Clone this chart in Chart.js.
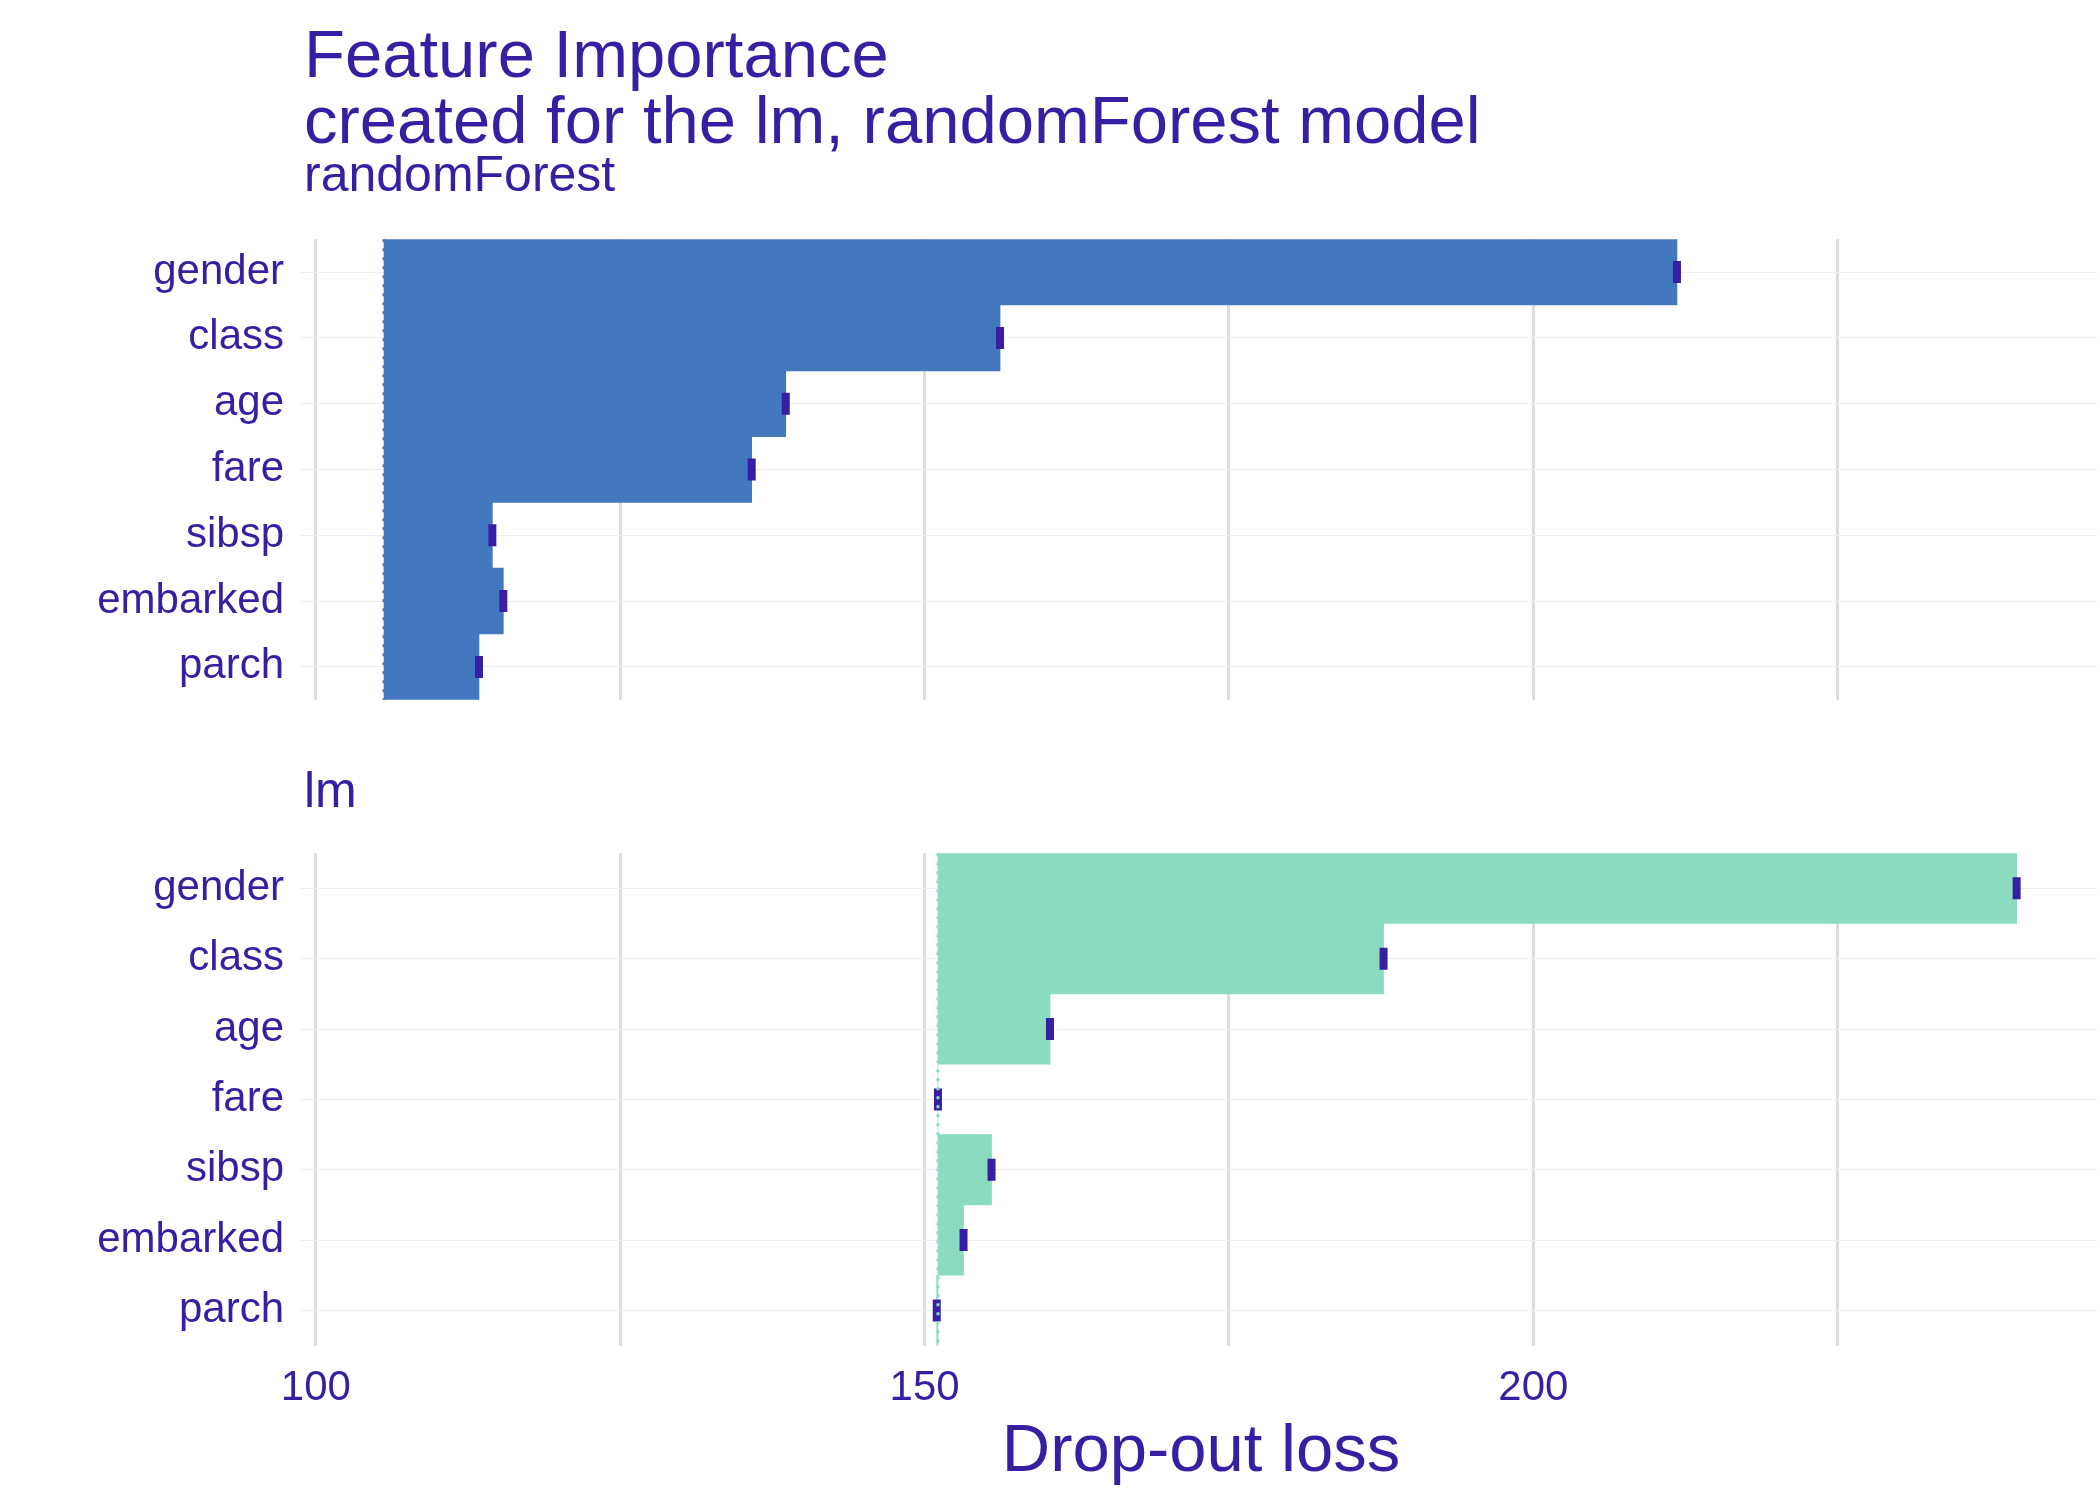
<!DOCTYPE html>
<html>
<head>
<meta charset="utf-8">
<script src="https://cdn.jsdelivr.net/npm/chart.js@4/dist/chart.umd.min.js"></script>
<style>
body { margin:0; width:2100px; height:1499px; background:#fff; font-family:Arial, "Liberation Sans", sans-serif; color:#371EA3; position:relative; overflow:hidden; }
.t { position:absolute; white-space:nowrap; }
.box { position:absolute; left:0; width:2100px; }
</style>
</head>
<body>
<div class="t" style="left:304px;top:20px;font-size:67px;line-height:68px;">Feature Importance</div>
<div class="t" style="left:304px;top:86px;font-size:67px;line-height:68px;">created for the lm, randomForest model</div>
<div class="t" style="left:304px;top:148px;font-size:50px;line-height:52px;">randomForest</div>
<div class="t" style="left:304px;top:764px;font-size:50px;line-height:52px;">lm</div>
<div class="t" style="left:951px;top:1414px;font-size:67px;line-height:68px;width:500px;text-align:center;">Drop-out loss</div>
<div class="box" style="top:198px;height:543px;"><canvas id="c1"></canvas></div>
<div class="box" style="top:812px;height:620px;"><canvas id="c2"></canvas></div>
<script>
let variaveis = ["gender","class","age","fare","sibsp","embarked","parch"];
let baseRF = 105.6;
let perdaRF = [211.8,156.2,138.6,135.8,114.5,115.4,113.4];
let baseLM = 151.1;
let perdaLM = [239.7,187.7,160.3,151.1,155.5,153.2,151.0];
let roxo = "#371EA3";

let linhaBase = {
    id: "linhaBase",
    afterDatasetsDraw: function (chart, args, opts) {
        let x = chart.scales.x.getPixelForValue(opts.valor);
        let ctx = chart.ctx;
        ctx.save();
        ctx.strokeStyle = opts.cor;
        ctx.lineWidth = 3;
        ctx.setLineDash([3,6]);
        ctx.beginPath();
        ctx.moveTo(x, chart.chartArea.top);
        ctx.lineTo(x, chart.chartArea.bottom);
        ctx.stroke();
        ctx.restore();
    }
};

function gerarGrafico(id, base, perdas, cor, corLinha, mostrarX) {
    let ctx = document.getElementById(id).getContext("2d");
    return new Chart(ctx, {
        data: {
            labels: variaveis,
            datasets: [{
                type: "line",
                data: perdas.map((v,i) => ({x:v, y:variaveis[i]})),
                showLine: false,
                pointStyle: "line",
                rotation: 90,
                radius: 11,
                borderWidth: 8,
                borderColor: roxo,
                backgroundColor: roxo
            },{
                type: "bar",
                data: perdas.map(v => [base, v]),
                backgroundColor: cor,
                barPercentage: 1,
                categoryPercentage: 1
            }]
        },
        options: {
            indexAxis: "y",
            responsive: true,
            maintainAspectRatio: false,
            animation: false,
            layout: { autoPadding: false, padding: {top:0, right:3, bottom:0, left:0} },
            plugins: {
                legend: { display: false },
                tooltip: { enabled: false },
                linhaBase: { valor: base, cor: corLinha }
            },
            scales: {
                x: {
                    type: "linear",
                    min: 98.7, max: 246.3,
                    afterBuildTicks: function (ax) {
                        ax.ticks = [100,125,150,175,200,225].map(v => ({value:v}));
                    },
                    grid: { color: "#dddddd", lineWidth: 3, drawTicks: false },
                    border: { display: false },
                    ticks: {
                        display: mostrarX,
                        color: roxo,
                        font: { size: 42, family: "Arial" },
                        padding: 18,
                        maxRotation: 0,
                        callback: v => (v % 50 === 0 ? v : "")
                    }
                },
                y: {
                    type: "category",
                    afterFit: function (ax) { ax.width = 300; },
                    grid: { color: "#eeeeee", lineWidth: 1, offset: false, drawTicks: false },
                    border: { display: false },
                    ticks: { color: roxo, font: { size: 42, family: "Arial" }, padding: 16 }
                }
            }
        },
        plugins: [linhaBase]
    });
}

gerarGrafico("c1", baseRF, perdaRF, "#4378BF", "#4378BF", false);
gerarGrafico("c2", baseLM, perdaLM, "#8BDCBE", "#8BDCBE", true);
</script>
</body>
</html>
